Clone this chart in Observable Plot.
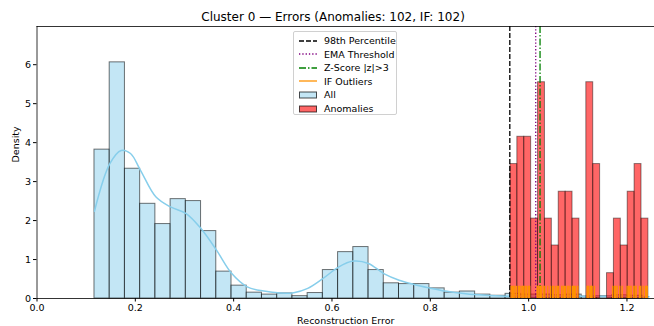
<!DOCTYPE html>
<html>
<head>
<meta charset="utf-8">
<script src="https://cdn.jsdelivr.net/npm/d3@7"></script>
<script src="https://cdn.jsdelivr.net/npm/@observablehq/plot@0.6"></script>
<style>
  html, body { margin: 0; padding: 0; background: white; }
  #wrap { position: relative; width: 654px; height: 326px; font-family: "DejaVu Sans", sans-serif; }
  #legend { position: absolute; left: 293px; top: 31px; width: 104px; height: 84px;
    border: 1px solid #d0d0d0; border-radius: 2px; background: rgba(255,255,255,0.85); box-sizing: border-box; }
  .row { position: absolute; left: 0; height: 13px; display: flex; align-items: center; font-size: 9.5px; color: #000; white-space: nowrap; }
  .row svg { margin-left: 5px; margin-right: 7px; }
</style>
</head>
<body>
<div id="wrap">
  <div id="chart"></div>
  <div id="legend"></div>
</div>
<script>
// ---- data ----
const titleText = "Cluster 0 \u2014 Errors (Anomalies: 102, IF: 102)";
const xLabel = "Reconstruction Error";
const yLabel = "Density";
const xTicks = [0.0, 0.2, 0.4, 0.6, 0.8, 1.0, 1.2];
const yTicks = [0, 1, 2, 3, 4, 5, 6];

// "All" histogram (density), bin start & width
const allStart = 0.1169;
const allWidth = 0.03097;
const allDensity = [3.82, 6.06, 3.33, 2.43, 1.91, 2.55, 2.50, 1.73, 0.69, 0.33,
  0.15, 0.10, 0.13, 0.06, 0.14, 0.73, 1.19, 1.32, 0.73, 0.39,
  0.37, 0.37, 0.26, 0.15, 0.18, 0.10, 0.07, 0.12, 0.10, 0.10,
  0.08, 0.10, 0.05, 0.06, 0.08, 0.07];

// "Anomalies" histogram (density)
const anomStart = 0.9630;
const anomWidth = 0.01403;
const anomDensity = [3.45, 4.15, 4.15, 2.05, 5.55, 2.05, 1.36, 2.74, 2.74, 2.05,
  0, 5.55, 3.45, 0, 0.65, 2.05, 1.36, 2.74, 3.45, 2.05];

// KDE of all errors
const kdeX = [0.1169, 0.1481, 0.1712, 0.1902, 0.2105, 0.2416, 0.2715, 0.3034, 0.3339, 0.3651,
  0.3962, 0.4275, 0.4613, 0.4953, 0.5223, 0.5507, 0.5813, 0.6126, 0.6431, 0.6742,
  0.7053, 0.7366, 0.7671, 0.7982, 0.8294, 0.8607, 0.8912, 0.9223, 0.9534, 0.99,
  1.03, 1.07, 1.11, 1.15, 1.19, 1.23, 1.245];
const kdeY = [2.24, 3.46, 3.80, 3.72, 3.29, 2.61, 2.35, 2.18, 1.79, 1.24,
  0.64, 0.30, 0.19, 0.14, 0.15, 0.26, 0.51, 0.80, 0.96, 0.90,
  0.64, 0.47, 0.36, 0.27, 0.19, 0.14, 0.10, 0.08, 0.06, 0.06,
  0.065, 0.065, 0.06, 0.055, 0.055, 0.05, 0.045];

// thresholds
const p98 = 0.9617;
const emaThreshold = 1.0144;
const zThreshold = 1.0232;

// IF outliers (rug)
const ifOutliers = [0.9644, 0.9670, 0.9697, 0.9720, 0.9752, 0.9792, 0.9815, 0.9847, 0.9880, 0.9900,
  0.9929, 0.9955, 0.9990, 1.0005, 1.0022, 1.0173, 1.0190, 1.0214, 1.0240, 1.0266,
  1.0307, 1.0330, 1.0388, 1.0443, 1.0484, 1.0510, 1.0551, 1.0585, 1.0612, 1.0673,
  1.0700, 1.0728, 1.0754, 1.0795, 1.0820, 1.0850, 1.0891, 1.0910, 1.0932, 1.0958,
  1.0999, 1.1190, 1.1205, 1.1223, 1.1257, 1.1275, 1.1292, 1.1339, 1.1710, 1.1745,
  1.1770, 1.1800, 1.1853, 1.1902, 1.2003, 1.2030, 1.2056, 1.2085, 1.2138, 1.2165,
  1.2187, 1.2254, 1.2280, 1.2329, 1.2376, 1.2395, 1.2411];

// ---- build tables ----
const allBins = allDensity.map((d, i) => ({x1: allStart + i * allWidth, x2: allStart + (i + 1) * allWidth, y: d}));
const anomBins = anomDensity.map((d, i) => ({x1: anomStart + i * anomWidth, x2: anomStart + (i + 1) * anomWidth, y: d}))
  .filter(d => d.y > 0);
const kde = kdeX.map((x, i) => ({x, y: kdeY[i]}));

const yMax = 6.98;
const xMax = 1.256;

const chart = Plot.plot({
  width: 654,
  height: 326,
  marginTop: 26,
  marginBottom: 28,
  marginLeft: 36.5,
  marginRight: 0,
  style: {fontFamily: "DejaVu Sans, sans-serif", fontSize: "9.5px", background: "white", color: "#000", overflow: "visible"},
  x: {domain: [0, xMax]},
  y: {domain: [0, yMax]},
  marks: [
    Plot.rectY(allBins, {x1: "x1", x2: "x2", y: "y", fill: "#87ceeb", fillOpacity: 0.5, stroke: "#000", strokeOpacity: 0.55, strokeWidth: 1}),
    Plot.line(kde, {x: "x", y: "y", stroke: "#87ceeb", strokeWidth: 1.5, curve: "catmull-rom"}),
    Plot.rectY(anomBins, {x1: "x1", x2: "x2", y: "y", fill: "#ff0000", fillOpacity: 0.6, stroke: "#000", strokeOpacity: 0.45, strokeWidth: 1}),
    Plot.ruleX([p98], {stroke: "#000", strokeWidth: 1.3, strokeDasharray: "5,2"}),
    Plot.ruleX([emaThreshold], {stroke: "purple", strokeWidth: 1.3, strokeDasharray: "1.3,2"}),
    Plot.ruleX([zThreshold], {stroke: "green", strokeWidth: 1.3, strokeDasharray: "7,2,1.5,2"}),
    Plot.ruleX(ifOutliers, {x: d => d, y1: 0, y2: yMax * 0.045, stroke: "#ff9200", strokeWidth: 1.3}),
    Plot.ruleY([yMax], {stroke: "#000", strokeWidth: 0.8}),
    Plot.ruleX([0], {stroke: "#000", strokeWidth: 0.8}),
    Plot.axisX({ticks: xTicks, tickFormat: d3.format(".1f"), tickSize: 3.5, tickPadding: 2.5, label: null, fontSize: 9.5}),
    Plot.axisY({ticks: yTicks, tickFormat: d3.format("d"), tickSize: 3.5, tickPadding: 2.5, label: null, fontSize: 9.5}),
    Plot.ruleY([0], {stroke: "#000", strokeWidth: 0.8}),
    Plot.text([xLabel], {frameAnchor: "bottom", dy: 22, fontSize: 9.5, lineAnchor: "middle"}),
    Plot.text([yLabel], {frameAnchor: "left", dx: -21.5, rotate: -90, fontSize: 9.5, lineAnchor: "middle"}),
    Plot.text([titleText], {frameAnchor: "top", dx: -12.7, dy: -9, fontSize: 12, lineAnchor: "middle"})
  ]
});
document.getElementById("chart").appendChild(chart);

// ---- legend ----
const legendItems = [
  {label: "98th Percentile", type: "line", color: "#000", dash: "5,2"},
  {label: "EMA Threshold", type: "line", color: "purple", dash: "1.3,2"},
  {label: "Z-Score |z|>3", type: "line", color: "green", dash: "7,2,1.5,2"},
  {label: "IF Outliers", type: "line", color: "#ff9200", dash: null},
  {label: "All", type: "patch", color: "rgba(135,206,235,0.5)"},
  {label: "Anomalies", type: "patch", color: "rgba(255,0,0,0.6)"}
];
const legend = document.getElementById("legend");
legendItems.forEach((it, i) => {
  const row = document.createElement("div");
  row.className = "row";
  row.style.top = (2 + i * 13.6) + "px";
  let sw;
  if (it.type === "line") {
    sw = `<svg width="18" height="8"><line x1="0" x2="18" y1="4" y2="4" stroke="${it.color}" stroke-width="1.3" ${it.dash ? `stroke-dasharray="${it.dash}"` : ""}/></svg>`;
  } else {
    sw = `<svg width="18" height="8"><rect x="0.5" y="1" width="17" height="6" fill="${it.color}" stroke="rgba(0,0,0,0.7)" stroke-width="1"/></svg>`;
  }
  row.innerHTML = sw + `<span>${it.label}</span>`;
  legend.appendChild(row);
});
</script>
</body>
</html>
